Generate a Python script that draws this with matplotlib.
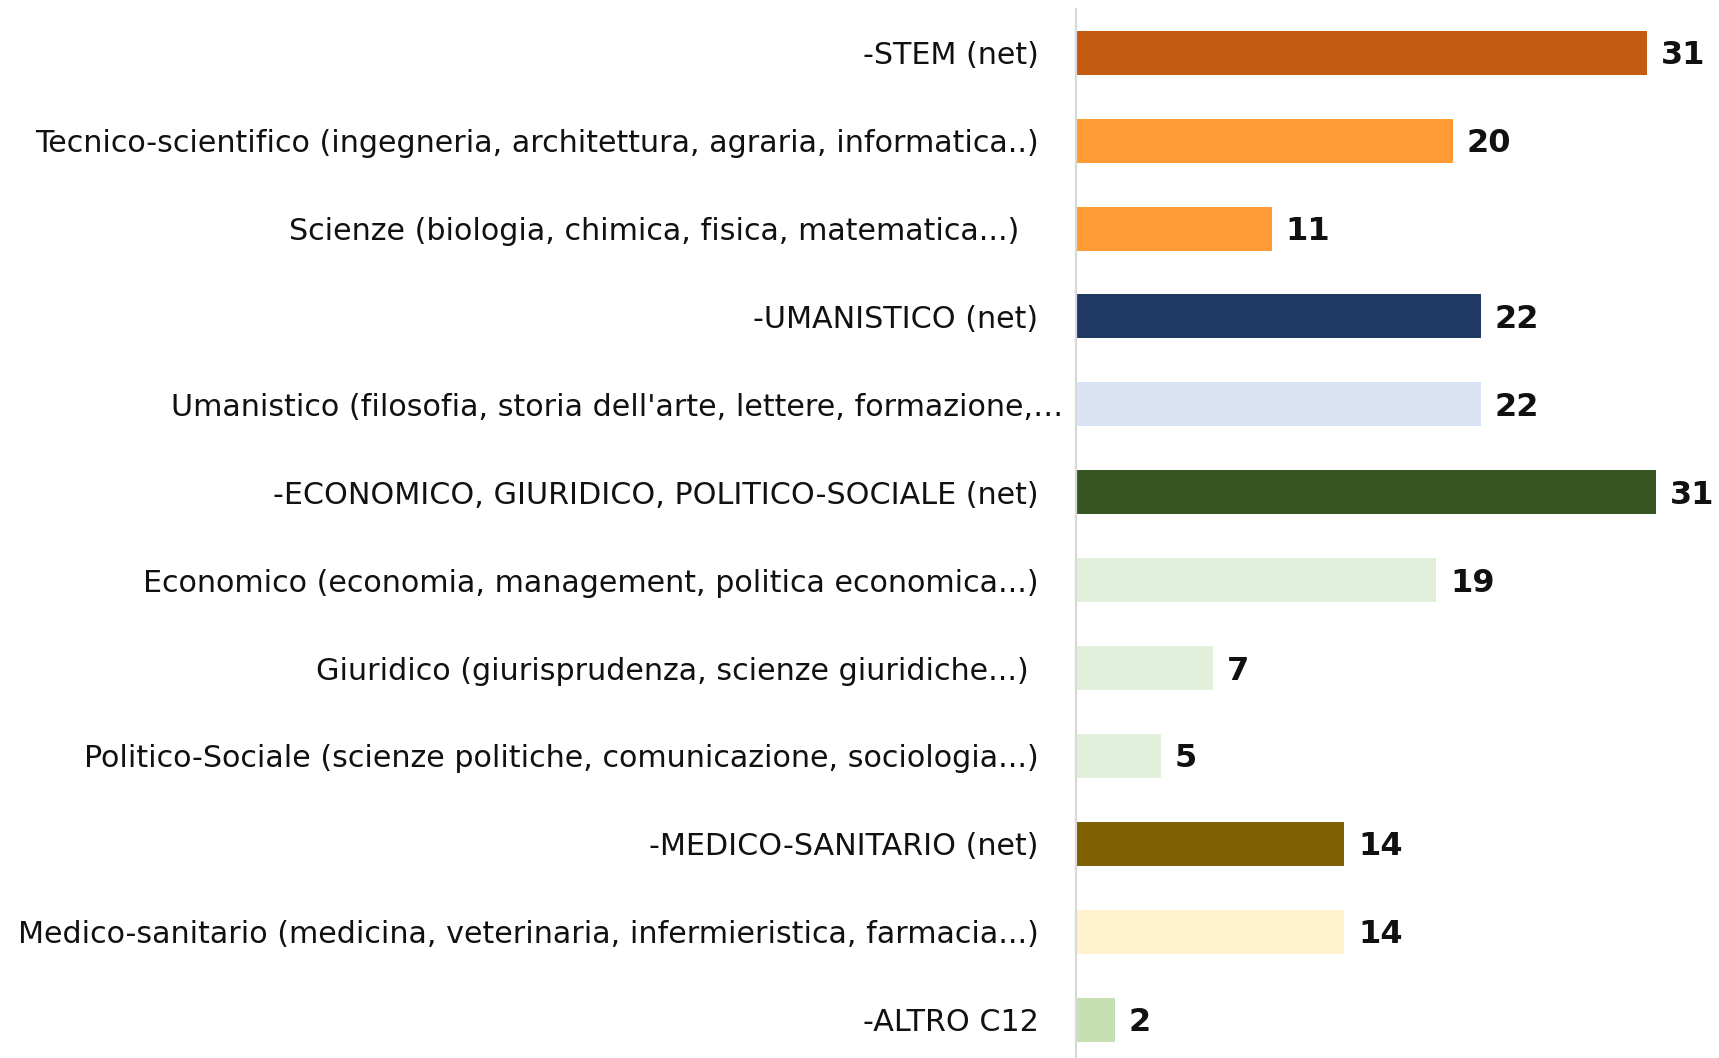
import matplotlib
matplotlib.use("Agg")
import matplotlib.pyplot as plt
import matplotlib.transforms as mtransforms

categories = [
    "-STEM (net)",
    "Tecnico-scientifico (ingegneria, architettura, agraria, informatica..)",
    "Scienze (biologia, chimica, fisica, matematica...)  ",
    "-UMANISTICO (net)",
    "Umanistico (filosofia, storia dell'arte, lettere, formazione,…",
    "-ECONOMICO, GIURIDICO, POLITICO-SOCIALE (net)",
    "Economico (economia, management, politica economica...)",
    "Giuridico (giurisprudenza, scienze giuridiche...) ",
    "Politico-Sociale (scienze politiche, comunicazione, sociologia...)",
    "-MEDICO-SANITARIO (net)",
    "Medico-sanitario (medicina, veterinaria, infermieristica, farmacia...)",
    "-ALTRO C12",
]
values = [30.9, 20.4, 10.6, 21.9, 21.9, 31.4, 19.5, 7.4, 4.6, 14.5, 14.5, 2.1]
value_labels = ["31", "20", "11", "22", "22", "31", "19", "7", "5", "14", "14", "2"]
colors = ["#C55A11", "#FF9A35", "#FF9A35", "#203864", "#DAE3F3", "#375623",
          "#E2EFDA", "#E2EFDA", "#E2EFDA", "#7F6000", "#FFF2CC", "#C6E0B4"]

plt.rcParams['font.family'] = ['DejaVu Sans']

fig = plt.figure(figsize=(17.19, 10.58), dpi=100)
ax = fig.add_axes([1076/1719, -0.0053, 1 - 1076/1719, 0.997])

y = list(range(len(categories)))
ax.barh(y, values, height=0.5, color=colors)
ax.set_ylim(len(categories) - 0.5, -0.5)
ax.set_xlim(0, 34.8)

for yi, v, lab in zip(y, values, value_labels):
    ax.annotate(lab, (v, yi), xytext=(14, -3), textcoords='offset pixels',
                ha='left', va='center', fontsize=23, fontweight='bold', color='#111111')

ax.set_yticks(y)
ax.set_yticklabels(categories, fontsize=21.7, color='#111111')
ax.tick_params(axis='y', length=0, pad=27)
ax.set_xticks([])
for s in ['top', 'right', 'bottom']:
    ax.spines[s].set_visible(False)
ax.spines['left'].set_color('#D9D9D9')
ax.spines['left'].set_linewidth(1.6)

# Truncated label extends further right
lbl = ax.get_yticklabels()[4]
lbl.set_transform(lbl.get_transform() + mtransforms.ScaledTranslation(25/100, 0, fig.dpi_scale_trans))

fig.savefig("out.png", dpi=100)
